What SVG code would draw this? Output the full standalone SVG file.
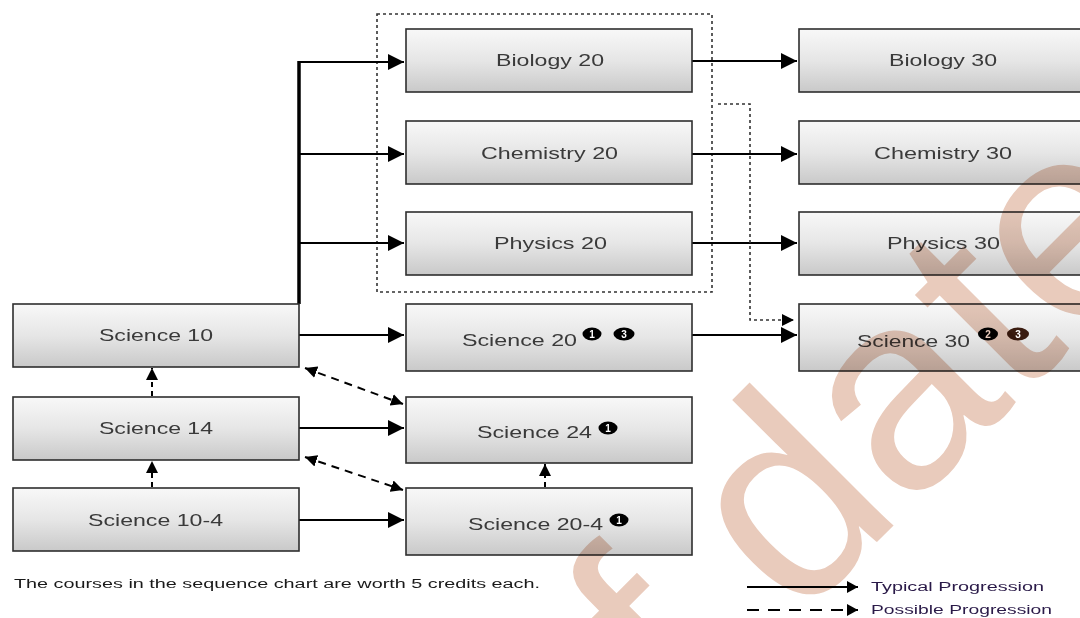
<svg xmlns="http://www.w3.org/2000/svg" width="1080" height="618" viewBox="0 0 1080 618">
<defs>
<linearGradient id="g" x1="0" y1="0" x2="0" y2="1">
<stop offset="0" stop-color="#f8f8f8"/>
<stop offset="0.5" stop-color="#e6e6e6"/>
<stop offset="1" stop-color="#c9c9c9"/>
</linearGradient>
<marker id="arr" viewBox="0 0 16 16" refX="16" refY="8" markerWidth="16" markerHeight="16" markerUnits="userSpaceOnUse" orient="auto">
<path d="M0,0 L16,8 L0,16 z" fill="#000"/>
</marker>
<marker id="arrs" viewBox="0 0 12 12" refX="12" refY="6" markerWidth="12" markerHeight="12" markerUnits="userSpaceOnUse" orient="auto-start-reverse">
<path d="M0,0 L12,6 L0,12 z" fill="#000"/>
</marker>
<marker id="arrl" viewBox="0 0 11 12" refX="11" refY="6" markerWidth="11" markerHeight="12" markerUnits="userSpaceOnUse" orient="auto">
<path d="M0,0 L11,6 L0,12 z" fill="#000"/>
</marker>
</defs>
<style>
.box{fill:url(#g);stroke:#2e2e2e;stroke-width:1.6}
.lbl{font-family:"Liberation Sans",Arial,sans-serif;font-size:17px;fill:#3a3a3a}
.bd{fill:#000}
.bt{font-family:"Liberation Sans",Arial,sans-serif;font-size:10px;font-weight:bold;fill:#fff;text-anchor:middle}
.solid{stroke:#000;stroke-width:2;fill:none}
.dash{stroke:#000;stroke-width:2;fill:none;stroke-dasharray:8 6}
.dot{stroke:#333;stroke-width:1.6;fill:none;stroke-dasharray:3 3}
.note{font-family:"Liberation Sans",Arial,sans-serif;font-size:12.5px;fill:#1a1a1a}
.leg{font-family:"Liberation Sans",Arial,sans-serif;font-size:12.5px;fill:#2a1a48}
.wm{font-family:"Liberation Sans",Arial,sans-serif;font-size:280px;fill:#e9cbbc;mix-blend-mode:multiply}
</style>

<rect x="377" y="14" width="335" height="278" class="dot"/>

<g id="connectors">
<path class="solid" d="M299,304 V61" style="stroke-width:3.5"/>
<path class="solid" d="M298,62 H404" marker-end="url(#arr)"/>
<path class="solid" d="M299,154 H404" marker-end="url(#arr)"/>
<path class="solid" d="M299,243 H404" marker-end="url(#arr)"/>
<path class="solid" d="M299,335 H404" marker-end="url(#arr)"/>
<path class="solid" d="M299,428 H404" marker-end="url(#arr)"/>
<path class="solid" d="M299,520 H404" marker-end="url(#arr)"/>
<path class="solid" d="M692,61 H797" marker-end="url(#arr)"/>
<path class="solid" d="M692,154 H797" marker-end="url(#arr)"/>
<path class="solid" d="M692,243 H797" marker-end="url(#arr)"/>
<path class="solid" d="M692,335 H797" marker-end="url(#arr)"/>
<path class="dash" d="M152,487 V461" marker-end="url(#arrs)" style="stroke-dasharray:5 4"/>
<path class="dash" d="M152,396 V368" marker-end="url(#arrs)" style="stroke-dasharray:5 4"/>
<path class="dash" d="M545,487 V464" marker-end="url(#arrs)" style="stroke-dasharray:5 4"/>
<path class="dash" d="M305,368 L403,404" marker-start="url(#arrs)" marker-end="url(#arrs)"/>
<path class="dash" d="M305,457 L403,490" marker-start="url(#arrs)" marker-end="url(#arrs)"/>
<path class="dot" d="M718,104 H750 V320 H794" marker-end="url(#arrs)"/>
</g>

<g id="science10"><rect class="box" x="13" y="304" width="286" height="63"/><text class="lbl" x="99" y="341" textLength="114" lengthAdjust="spacingAndGlyphs">Science 10</text></g>
<g id="science14"><rect class="box" x="13" y="397" width="286" height="63"/><text class="lbl" x="99" y="434" textLength="114" lengthAdjust="spacingAndGlyphs">Science 14</text></g>
<g id="science10-4"><rect class="box" x="13" y="488" width="286" height="63"/><text class="lbl" x="88" y="526" textLength="135" lengthAdjust="spacingAndGlyphs">Science 10-4</text></g>

<g id="biology20"><rect class="box" x="406" y="29" width="286" height="63"/><text class="lbl" x="496" y="66" textLength="108" lengthAdjust="spacingAndGlyphs">Biology 20</text></g>
<g id="chemistry20"><rect class="box" x="406" y="121" width="286" height="63"/><text class="lbl" x="481" y="159" textLength="137" lengthAdjust="spacingAndGlyphs">Chemistry 20</text></g>
<g id="physics20"><rect class="box" x="406" y="212" width="286" height="63"/><text class="lbl" x="494" y="249" textLength="113" lengthAdjust="spacingAndGlyphs">Physics 20</text></g>
<g id="science20"><rect class="box" x="406" y="304" width="286" height="67"/><text class="lbl" x="462" y="346" textLength="115" lengthAdjust="spacingAndGlyphs">Science 20</text>
<ellipse class="bd" cx="592" cy="334" rx="9.5" ry="6.5"/><text class="bt" x="592" y="338">1</text>
<ellipse class="bd" cx="624" cy="334" rx="10.5" ry="6.5"/><text class="bt" x="624" y="338">3</text></g>
<g id="science24"><rect class="box" x="406" y="397" width="286" height="66"/><text class="lbl" x="477" y="438" textLength="115" lengthAdjust="spacingAndGlyphs">Science 24</text>
<ellipse class="bd" cx="608" cy="428" rx="9.5" ry="6.5"/><text class="bt" x="608" y="432">1</text></g>
<g id="science20-4"><rect class="box" x="406" y="488" width="286" height="67"/><text class="lbl" x="468" y="530" textLength="135" lengthAdjust="spacingAndGlyphs">Science 20-4</text>
<ellipse class="bd" cx="619" cy="520" rx="9.5" ry="6.5"/><text class="bt" x="619" y="524">1</text></g>

<g id="biology30"><rect class="box" x="799" y="29" width="300" height="63"/><text class="lbl" x="889" y="66" textLength="108" lengthAdjust="spacingAndGlyphs">Biology 30</text></g>
<g id="chemistry30"><rect class="box" x="799" y="121" width="300" height="63"/><text class="lbl" x="874" y="159" textLength="138" lengthAdjust="spacingAndGlyphs">Chemistry 30</text></g>
<g id="physics30"><rect class="box" x="799" y="212" width="300" height="63"/><text class="lbl" x="887" y="249" textLength="113" lengthAdjust="spacingAndGlyphs">Physics 30</text></g>
<g id="science30"><rect class="box" x="799" y="304" width="300" height="67"/><text class="lbl" x="857" y="347" textLength="113" lengthAdjust="spacingAndGlyphs">Science 30</text>
<ellipse class="bd" cx="988" cy="334" rx="10" ry="6.5"/><text class="bt" x="988" y="338">2</text>
<ellipse cx="1018" cy="334" rx="11" ry="6.5" fill="#3a1c10"/><text class="bt" x="1018" y="338">3</text></g>

<text class="note" x="14" y="588" textLength="526" lengthAdjust="spacingAndGlyphs">The courses in the sequence chart are worth 5 credits each.</text>

<g id="legend">
<path class="solid" d="M747,587 H858" marker-end="url(#arrl)"/>
<path class="dash" d="M747,610 H858" marker-end="url(#arrl)" style="stroke-dasharray:12 9"/>
<text class="leg" x="871" y="591" textLength="173" lengthAdjust="spacingAndGlyphs">Typical Progression</text>
<text class="leg" x="871" y="614" textLength="181" lengthAdjust="spacingAndGlyphs">Possible Progression</text>
</g>

<text class="wm" transform="translate(202,1217) rotate(-45)" x="0" y="0">Out of date</text>
</svg>
